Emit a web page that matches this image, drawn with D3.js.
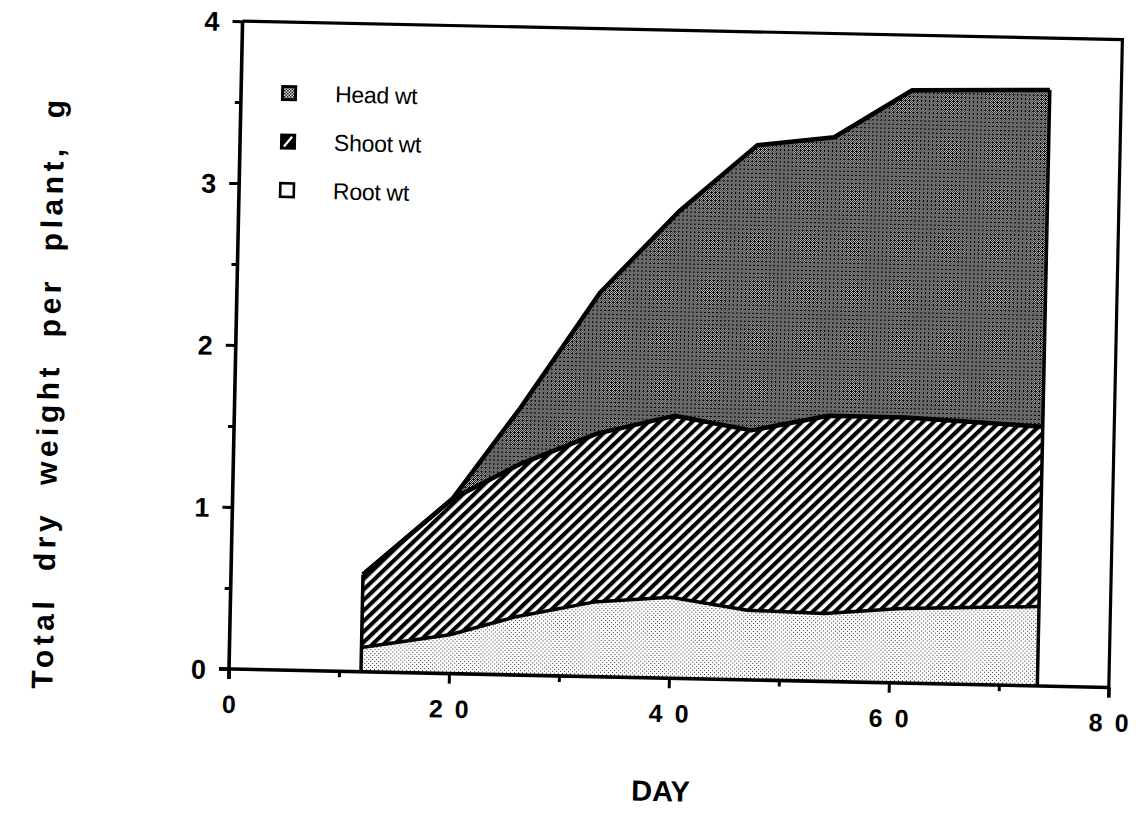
<!DOCTYPE html>
<html>
<head>
<meta charset="utf-8">
<script src="https://cdn.jsdelivr.net/npm/d3@7"></script>
<style>
  html, body { margin: 0; padding: 0; background: #fff; }
  svg { display: block; }
</style>
</head>
<body>
<script>
// ---- data ----
const days    = [12, 20, 26, 33, 40, 47, 54, 61, 73.5];
const rootWt  = [0.15, 0.24, 0.36, 0.46, 0.50, 0.43, 0.42, 0.46, 0.49];
const shootWt = [0.45, 0.84, 0.94, 1.04, 1.12, 1.11, 1.22, 1.18, 1.11];
const headWt  = [0.00, 0.00, 0.35, 0.87, 1.26, 1.76, 1.72, 2.02, 2.08];
const seriesKeys   = ["root", "shoot", "head"];
const legendLabels = ["Head wt", "Shoot wt", "Root wt"];
const xMajorTicks = [0, 20, 40, 60, 80];
const xMinorTicks = [10, 30, 50, 70];
const yMajorTicks = [0, 1, 2, 3, 4];
const yMinorTicks = [0.5, 1.5, 2.5, 3.5];
const xTitle = "DAY";
const yTitle = "Total dry weight per plant, g";

const W = 1142, H = 813;
const tilt = 1.2; // scanned page is slightly rotated
const FONT = "'Liberation Sans', Arial, Helvetica, sans-serif";

const rows = days.map((d, i) => ({ day: d, root: rootWt[i], shoot: shootWt[i], head: headWt[i] }));
const stacked = d3.stack().keys(seriesKeys)(rows);

const x = d3.scaleLinear().domain([0, 80]).range([229, 1109]);
const y = d3.scaleLinear().domain([0, 4]).range([669, 21]);

const svg = d3.select("body").append("svg").attr("width", W).attr("height", H);
const defs = svg.append("defs");

// head: dark halftone stipple
const hp = defs.append("pattern").attr("id", "headPat").attr("patternUnits", "userSpaceOnUse")
  .attr("width", 4).attr("height", 4);
hp.append("rect").attr("width", 4).attr("height", 4).attr("fill", "#d0d0d0");
[[0,0],[2,0],[1,1],[3,1],[0,2],[2,2],[1,3],[3,3],[1,2]].forEach(([a,b]) =>
  hp.append("rect").attr("x", a).attr("y", b).attr("width", 1).attr("height", 1).attr("fill", "#000"));

// shoot: diagonal hatch
const sp = defs.append("pattern").attr("id", "shootPat").attr("patternUnits", "userSpaceOnUse")
  .attr("width", 7.6).attr("height", 7.6).attr("patternTransform", "rotate(45)");
sp.append("rect").attr("width", 7.6).attr("height", 7.6).attr("fill", "#fff");
sp.append("rect").attr("width", 4.1).attr("height", 7.6).attr("fill", "#000");

// root: light stipple
const rp = defs.append("pattern").attr("id", "rootPat").attr("patternUnits", "userSpaceOnUse")
  .attr("width", 4).attr("height", 4);
rp.append("rect").attr("width", 4).attr("height", 4).attr("fill", "#fff");
[[0,0],[2,2]].forEach(([a,b]) =>
  rp.append("rect").attr("x", a).attr("y", b).attr("width", 1).attr("height", 1).attr("fill", "#333"));

// legend head icon pattern
const lp = defs.append("pattern").attr("id", "legHeadPat").attr("patternUnits", "userSpaceOnUse")
  .attr("width", 3).attr("height", 3);
lp.append("rect").attr("width", 3).attr("height", 3).attr("fill", "#fff");
lp.append("rect").attr("width", 1.5).attr("height", 1.5).attr("fill", "#000");
lp.append("rect").attr("x", 1.5).attr("y", 1.5).attr("width", 1.5).attr("height", 1.5).attr("fill", "#000");

const fills = { root: "url(#rootPat)", shoot: "url(#shootPat)", head: "url(#headPat)" };

const g = svg.append("g").attr("transform", `rotate(${tilt}, ${x(0)}, ${y(0)})`);

// areas
const area = d3.area().x(d => x(d.data.day)).y0(d => y(d[0])).y1(d => y(d[1])).curve(d3.curveLinear);
g.selectAll("path.layer").data(stacked).join("path")
  .attr("class", "layer")
  .attr("fill", s => fills[s.key])
  .attr("d", area);

// boundary lines
const line = d3.line().x(d => x(d.data.day)).y(d => y(d[1])).curve(d3.curveLinear);
g.selectAll("path.edge").data(stacked).join("path")
  .attr("class", "edge")
  .attr("fill", "none").attr("stroke", "#000")
  .attr("stroke-width", s => s.key === "root" ? 3.5 : 4.5)
  .attr("stroke-linejoin", "round")
  .attr("d", line);
const topLayer = stacked[stacked.length - 1];
[0, days.length - 1].forEach(i => {
  g.append("line")
    .attr("x1", x(days[i])).attr("x2", x(days[i]))
    .attr("y1", y(0)).attr("y2", y(topLayer[i][1]))
    .attr("stroke", "#000").attr("stroke-width", 3.5);
});

// frame (top and right)
g.append("path")
  .attr("d", `M${x(0)},${y(4)}H${x(80)}V${y(0) + 10}`)
  .attr("fill", "none").attr("stroke", "#000").attr("stroke-width", 3.2);

// axes
const yAxisMajor = g.append("g").attr("transform", `translate(${x(0)},0)`)
  .call(d3.axisLeft(y).tickValues(yMajorTicks).tickSize(10).tickPadding(13).tickFormat(d3.format("d")));
const yAxisMinor = g.append("g").attr("transform", `translate(${x(0)},0)`)
  .call(d3.axisLeft(y).tickValues(yMinorTicks).tickSize(6).tickFormat(""));
const xAxisMajor = g.append("g").attr("transform", `translate(0,${y(0)})`)
  .call(d3.axisBottom(x).tickValues(xMajorTicks).tickSize(10).tickFormat(d3.format("d")));
const xAxisMinor = g.append("g").attr("transform", `translate(0,${y(0)})`)
  .call(d3.axisBottom(x).tickValues(xMinorTicks).tickSize(6).tickFormat(""));

[yAxisMajor, yAxisMinor, xAxisMajor, xAxisMinor].forEach(a => {
  a.select(".domain").remove();
  a.selectAll(".tick line").attr("stroke", "#000").attr("stroke-width", 3);
});
yAxisMajor.selectAll("text")
  .attr("font-family", FONT).attr("font-weight", "bold").attr("font-size", 27).attr("fill", "#000")
  .attr("dy", "0.36em");
xAxisMajor.selectAll("text")
  .attr("font-family", FONT).attr("font-weight", "bold").attr("font-size", 25).attr("fill", "#000")
  .attr("letter-spacing", 12).attr("dx", 6).attr("dy", 0).attr("y", 44);

// axis lines
g.append("line").attr("x1", x(0)).attr("x2", x(0)).attr("y1", y(4)).attr("y2", y(0) + 10)
  .attr("stroke", "#000").attr("stroke-width", 3.6);
g.append("line").attr("x1", x(0) - 10).attr("x2", x(80)).attr("y1", y(0)).attr("y2", y(0))
  .attr("stroke", "#000").attr("stroke-width", 3.6);

// legend
const leg = g.append("g").attr("transform", "translate(269,92)");
const legRow = 48.5;
legendLabels.forEach((lab, i) => {
  const r = leg.append("g").attr("transform", `translate(0,${i * legRow})`);
  if (i === 0) {
    r.append("rect").attr("x", 0).attr("y", -8).attr("width", 16).attr("height", 16).attr("fill", "#000");
    r.append("rect").attr("x", 3).attr("y", -5).attr("width", 10).attr("height", 10).attr("fill", "url(#legHeadPat)");
  } else if (i === 1) {
    r.append("rect").attr("x", 0).attr("y", -8).attr("width", 16).attr("height", 16).attr("fill", "#000");
    r.append("line").attr("x1", 4).attr("y1", 5).attr("x2", 12).attr("y2", -5)
      .attr("stroke", "#fff").attr("stroke-width", 2.2);
  } else {
    r.append("rect").attr("x", 1.2).attr("y", -6.8).attr("width", 13.6).attr("height", 13.6)
      .attr("fill", "#fff").attr("stroke", "#000").attr("stroke-width", 2.6);
  }
  r.append("text").attr("x", 54).attr("y", 0).attr("dy", "0.36em")
    .attr("font-family", FONT).attr("font-size", 23).attr("fill", "#000")
    .attr("letter-spacing", -0.3)
    .text(lab);
});

// titles
g.append("text").attr("x", 663).attr("y", 792).attr("text-anchor", "middle")
  .attr("font-family", FONT).attr("font-weight", "bold").attr("font-size", 29).attr("fill", "#000")
  .text(xTitle);
g.append("text").attr("transform", "translate(42,396) rotate(-90)")
  .attr("text-anchor", "middle").attr("dy", "0.36em")
  .attr("font-family", FONT).attr("font-weight", "bold").attr("font-size", 30).attr("fill", "#000")
  .attr("letter-spacing", 4.5).attr("word-spacing", 13)
  .text(yTitle);
</script>
</body>
</html>
